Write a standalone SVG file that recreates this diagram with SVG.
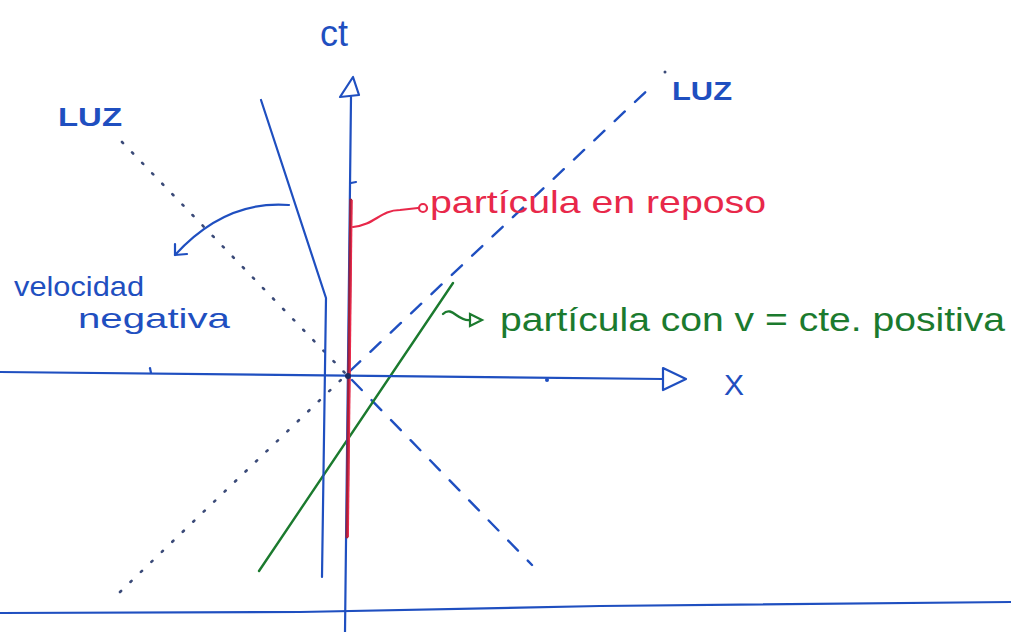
<svg xmlns="http://www.w3.org/2000/svg" width="1011" height="632" viewBox="0 0 1011 632">
<defs>
<style>
.blue{stroke:#1f4fc0;fill:none;stroke-width:2.2;stroke-linecap:round;stroke-linejoin:round}
.red{stroke:#e8284a;fill:none;stroke-width:2.2;stroke-linecap:round}
.green{stroke:#1b7a2e;fill:none;stroke-width:2.4;stroke-linecap:round}
.dots{stroke:#3a4a78;fill:none;stroke-width:2.6;stroke-dasharray:1.5 13;stroke-linecap:round}
.dash{stroke:#1f4fc0;fill:none;stroke-width:2.4;stroke-dasharray:14 14;stroke-linecap:round}
.hb{font-family:"Liberation Sans",Arial,sans-serif;fill:#1f4fc0}
.hr{font-family:"Liberation Sans",Arial,sans-serif;fill:#e8284a}
.hg{font-family:"Liberation Sans",Arial,sans-serif;fill:#1b7a2e}
</style>
</defs>
<rect width="1011" height="632" fill="#ffffff"/>

<g id="connectors">
  <!-- light lines -->
  <polyline class="dots" points="122,142 345,373"/>
  <polyline class="dash" points="352,380 532,565"/>
  <polyline class="dots" points="120,592 345,376"/>
  <polyline class="dash" points="350,371 655,83"/>
  <circle cx="665" cy="72" r="1.5" fill="#3a4a78"/>
  <!-- green worldline -->
  <line class="green" x1="259" y1="571" x2="453" y2="283"/>
  <!-- negative velocity worldline -->
  <polyline class="blue" points="261,100 326,298 322,577"/>
  <!-- curved arrow -->
  <path class="blue" d="M289,205 Q225,200 175,255"/>
  <polyline class="blue" points="175,244 175,255 187,254"/>
  <!-- red label connector -->
  <path class="red" d="M353,227 C375,225 380,210 400,210 L418,208"/>
  <circle cx="423" cy="208" r="4" class="red"/>
  <!-- green label connector -->
  <path class="green" d="M443,314 C452,305 458,322 470,320"/>
  <polygon points="470,314 482,320 470,326" fill="none" stroke="#1b7a2e" stroke-width="2.2"/>
</g>

<g id="axis-ct">
  <line class="blue" x1="351" y1="97" x2="345" y2="632"/>
  <polygon class="blue" points="353,77 340,97 359,95"/>
  <line class="blue" x1="351" y1="183" x2="356" y2="182"/>
  <text class="hb" x="320" y="46" font-size="36">ct</text>
</g>

<g id="worldline-rest">
  <line stroke="#a0203a" stroke-width="3" stroke-linecap="round" x1="350.8" y1="200" x2="347" y2="537"/>
  <line stroke="#e8284a" stroke-width="1.4" x1="352" y1="200" x2="348.2" y2="537"/>
</g>

<g id="axis-x">
  <line class="blue" x1="0" y1="372" x2="663" y2="379"/>
  <polygon class="blue" points="663,368 686,379 663,390"/>
  <line class="blue" x1="150" y1="368" x2="151" y2="373"/>
  <circle cx="547" cy="380" r="2" fill="#1f4fc0"/>
  <circle cx="348" cy="376" r="3" fill="#1a2a60"/>
  <text class="hb" x="724" y="395" font-size="30">X</text>
</g>

<g id="bottom-line">
  <path class="blue" d="M0,613 L300,612 L600,606 L1011,602"/>
</g>

<g id="label-luz-left">
  <text class="hb" x="58" y="126" font-size="26" font-weight="bold" textLength="64" lengthAdjust="spacingAndGlyphs">LUZ</text>
</g>
<g id="label-luz-right">
  <text class="hb" x="672" y="100" font-size="26" font-weight="bold" textLength="60" lengthAdjust="spacingAndGlyphs">LUZ</text>
</g>

<g id="label-negativa">
  <text class="hb" x="14" y="296" font-size="28" textLength="130" lengthAdjust="spacingAndGlyphs">velocidad</text>
  <text class="hb" x="78" y="328" font-size="28" textLength="152" lengthAdjust="spacingAndGlyphs">negativa</text>
</g>

<g id="label-reposo">
  <text class="hr" x="430" y="213" font-size="32" textLength="336" lengthAdjust="spacingAndGlyphs">partícula en reposo</text>
</g>

<g id="label-positiva">
  <text class="hg" x="500" y="331" font-size="34" textLength="505" lengthAdjust="spacingAndGlyphs">partícula con v = cte. positiva</text>
</g>
</svg>
